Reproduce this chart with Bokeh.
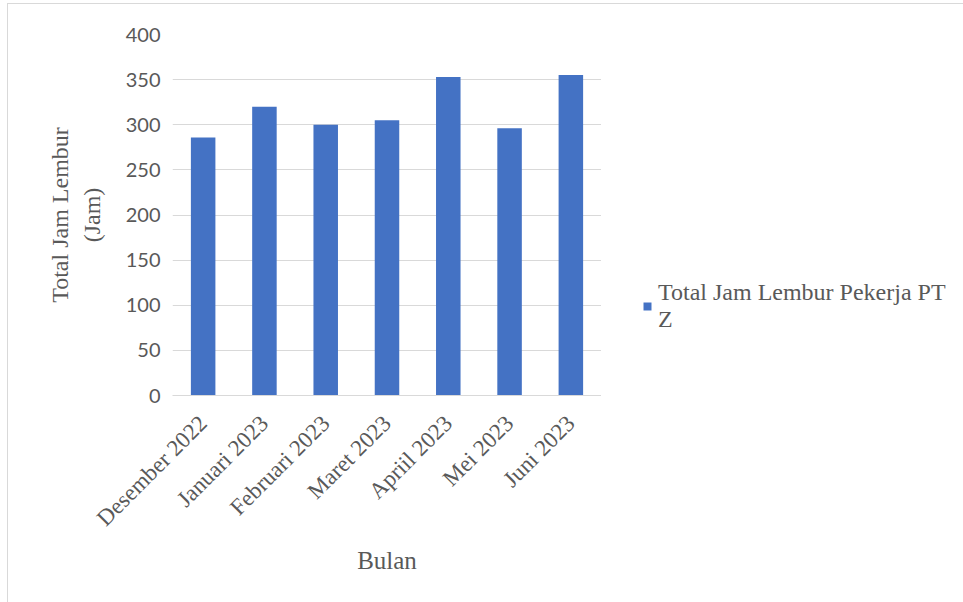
from bokeh.plotting import figure
from bokeh.layouts import row
from bokeh.models import ColumnDataSource, Legend, LegendItem, FactorRange, Range1d, SingleIntervalTicker
from bokeh.embed import file_html
from bokeh.resources import INLINE
from math import pi

months = ["Desember 2022", "Januari 2023", "Februari 2023", "Maret 2023",
          "Apriil 2023", "Mei 2023", "Juni 2023"]
hours = [286, 320, 300, 305, 353, 296, 355]
series_name = "Total Jam Lembur Pekerja PT\nZ"
y_title = "Total Jam Lembur\n(Jam)"
x_title = "Bulan"

BAR = "#4472C4"
TXT = "#595959"
GRID = "#d9d9d9"
SERIF = "Liberation Serif"

OX, OY = 8, 4                 # where the chart box starts on the page
H = 602 - OY
FL, FR, FT, FB = 172, 601, 34, 395  # frame edges in page pixels

src = ColumnDataSource(dict(m=months, h=hours))

p = figure(width=FR - OX, height=H, x_range=FactorRange(*months, range_padding=0),
           y_range=Range1d(0, 400), output_backend="svg", toolbar_location=None,
           min_border_left=FL - OX, min_border_right=0, min_border_top=FT - OY,
           min_border_bottom=602 - FB)
p.outline_line_color = None
p.xgrid.grid_line_color = None
p.ygrid.grid_line_color = GRID
p.ygrid.grid_line_width = 1

r = p.vbar(x="m", top="h", width=0.4, source=src, fill_color=BAR, line_color=None)

p.yaxis.ticker = SingleIntervalTicker(interval=50)
p.yaxis.axis_line_color = None
p.yaxis.major_tick_line_color = None
p.yaxis.minor_tick_line_color = None
p.yaxis.major_label_text_font = "Lato"
p.yaxis.major_label_text_font_size = "20px"
p.yaxis.major_label_text_color = TXT
p.yaxis.major_label_standoff = 6
p.yaxis.axis_label = y_title
p.yaxis.axis_label_text_font = SERIF
p.yaxis.axis_label_text_font_size = "24px"
p.yaxis.axis_label_text_font_style = "normal"
p.yaxis.axis_label_text_color = TXT
p.yaxis.axis_label_standoff = 18

p.xaxis.axis_line_color = GRID
p.xaxis.major_tick_line_color = None
p.xaxis.minor_tick_line_color = None
p.xaxis.major_label_orientation = pi / 4
p.xaxis.major_label_text_font = SERIF
p.xaxis.major_label_text_font_size = "23px"
p.xaxis.major_label_text_color = TXT
p.xaxis.major_label_standoff = 18
p.xaxis.axis_label = x_title
p.xaxis.axis_label_text_font = SERIF
p.xaxis.axis_label_text_font_size = "25px"
p.xaxis.axis_label_text_font_style = "normal"
p.xaxis.axis_label_text_color = TXT
p.xaxis.axis_label_standoff = 4

# legend panel to the right of the plot area; its key renderer reuses the same
# data but draws nothing visible (zero width, outside the view)
lp = figure(width=963 - FR, height=H, x_range=FactorRange(*months, range_padding=0),
            y_range=Range1d(-1001, -1000), output_backend="svg", toolbar_location=None,
            min_border=0)
lp.axis.visible = False
lp.grid.visible = False
lp.outline_line_color = None
key = lp.vbar(x="m", top="h", width=0, source=src, fill_color=BAR, line_color=None)

legend = Legend(items=[LegendItem(label=series_name, renderers=[key])],
                location=(642 - FR, 62), label_text_font=SERIF, label_text_font_size="24px",
                label_text_color=TXT, glyph_width=10, glyph_height=10,
                border_line_color=None, background_fill_alpha=0, padding=0, margin=0,
                label_standoff=6)
lp.add_layout(legend, "center")

page = row(p, lp, spacing=0)
page.styles = {"border-left": "1px solid #d9d9d9", "border-top": "1px solid #d9d9d9",
               "margin-left": f"{OX - 1}px", "margin-top": f"{OY - 1}px"}

open("out.html", "w").write(file_html(page, INLINE))
